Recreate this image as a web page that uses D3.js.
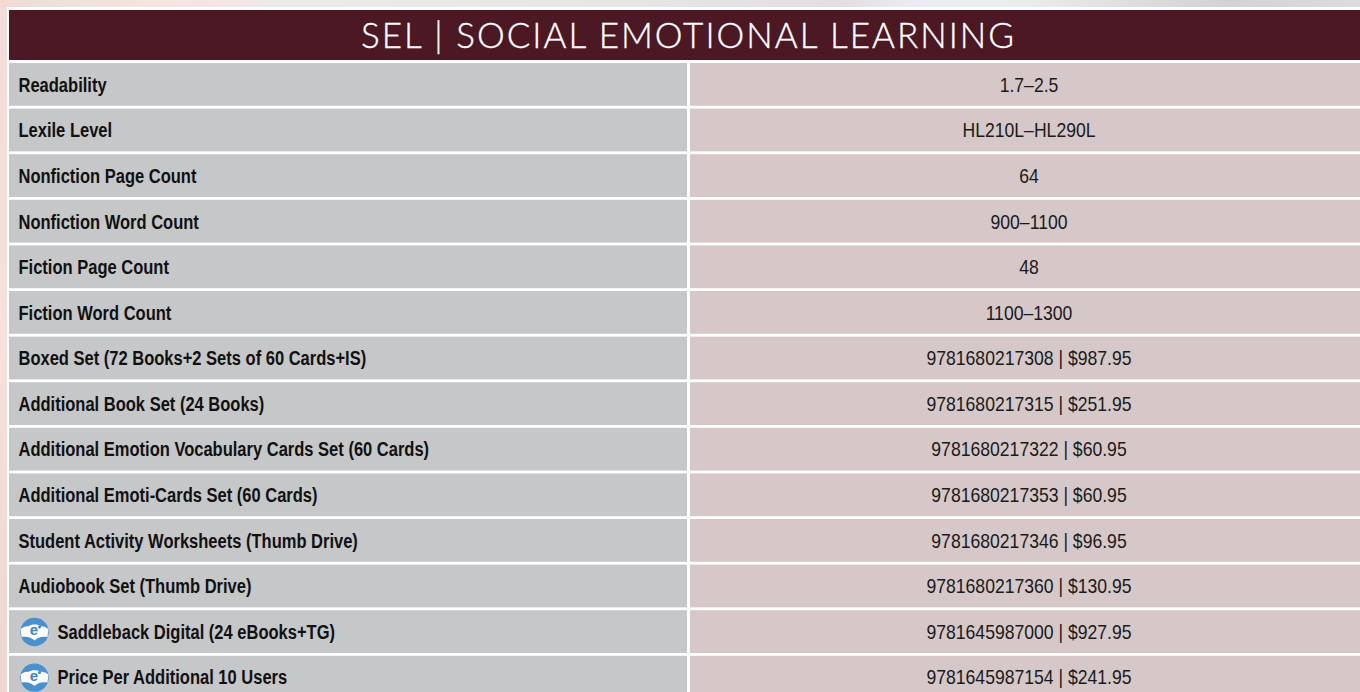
<!DOCTYPE html>
<html>
<head>
<meta charset="utf-8">
<script src="https://cdn.jsdelivr.net/npm/d3@7"></script>
<style>
html,body{margin:0;padding:0;background:#fff;overflow:hidden}
svg{display:block}
</style>
</head>
<body>
<svg id="chart" width="1360" height="692"></svg>
<script>
const titleText = "SEL | SOCIAL EMOTIONAL LEARNING";
const rowLabels = ["Readability","Lexile Level","Nonfiction Page Count","Nonfiction Word Count","Fiction Page Count","Fiction Word Count","Boxed Set (72 Books+2 Sets of 60 Cards+IS)","Additional Book Set (24 Books)","Additional Emotion Vocabulary Cards Set (60 Cards)","Additional Emoti-Cards Set (60 Cards)","Student Activity Worksheets (Thumb Drive)","Audiobook Set (Thumb Drive)","Saddleback Digital (24 eBooks+TG)","Price Per Additional 10 Users"];
const rowValues = ["1.7–2.5","HL210L–HL290L","64","900–1100","48","1100–1300","9781680217308 | $987.95","9781680217315 | $251.95","9781680217322 | $60.95","9781680217353 | $60.95","9781680217346 | $96.95","9781680217360 | $130.95","9781645987000 | $927.95","9781645987154 | $241.95"];
const digitalRows = ["Saddleback Digital (24 eBooks+TG)","Price Per Additional 10 Users"];

const svg = d3.select("#chart");
const defs = svg.append("defs");
const bg = defs.append("linearGradient").attr("id","bgTop");
[[0,"#f6d8d2"],[0.03,"#ece0da"],[0.12,"#f6e4e0"],[0.18,"#f4e6e4"],[0.2,"#ebebe6"],[0.45,"#e6e6e4"],[0.62,"#e2dfe4"],[0.68,"#eaeef4"],[0.75,"#e8eeec"],[0.82,"#e0e0e0"],[0.9,"#d2d2d6"],[1,"#dcdce0"]].forEach(d=>bg.append("stop").attr("offset",d[0]).attr("stop-color",d[1]));
const bgL = defs.append("linearGradient").attr("id","bgLeft").attr("x1",0).attr("x2",0).attr("y1",0).attr("y2",1);
[[0,"#f4dcd8"],[0.5,"#f4e0dc"],[1,"#eed6d2"]].forEach(d=>bgL.append("stop").attr("offset",d[0]).attr("stop-color",d[1]));

svg.append("rect").attr("width",1360).attr("height",7).attr("fill","url(#bgTop)");
svg.append("rect").attr("y",7).attr("width",7).attr("height",685).attr("fill","url(#bgLeft)");

const y = d3.scaleBand().domain(rowLabels).range([63,698.6]).paddingInner(0.0614).paddingOuter(0);
const colL = 9, colM = 687, colR = 690, W = 1360;

svg.append("rect").attr("x",colL).attr("y",10).attr("width",W-colL).attr("height",50).attr("fill","#4b1824");
svg.append("text").attr("x",688.5).attr("y",48).attr("text-anchor","middle")
  .attr("font-family","Lato").attr("font-weight",300).attr("font-size",35).attr("letter-spacing",2.03)
  .attr("fill","#fff").attr("stroke","#fff").attr("stroke-width",0.35).text(titleText);

const rows = svg.selectAll("g.row").data(rowLabels.map((l,i)=>({label:l,value:rowValues[i]}))).join("g").attr("class","row");
rows.append("rect").attr("x",colL).attr("y",d=>y(d.label)).attr("width",colM-colL).attr("height",y.bandwidth()).attr("fill","#c6c7c9");
rows.append("rect").attr("x",colR).attr("y",d=>y(d.label)).attr("width",W-colR).attr("height",y.bandwidth()).attr("fill","#d6c8c9");
const font = "'Liberation Sans',sans-serif";
rows.append("text")
  .attr("transform",d=>`translate(${digitalRows.includes(d.label)?57.5:18.5},${y(d.label)+y.bandwidth()/2+7.3}) scale(0.826,1)`)
  .attr("font-family",font).attr("font-weight",700).attr("font-size",20).attr("fill","#111").text(d=>d.label);
rows.append("text")
  .attr("transform",d=>`translate(1029,${y(d.label)+y.bandwidth()/2+7.3}) scale(0.88,1)`).attr("text-anchor","middle")
  .attr("font-family",font).attr("font-size",20).attr("fill","#1a1a1a").text(d=>d.value);

const icons = rows.filter(d=>digitalRows.includes(d.label)).append("g")
  .attr("transform",d=>`translate(34.5,${y(d.label)+y.bandwidth()/2+0.4})`);
icons.append("circle").attr("r",14.2).attr("fill","#4a8fd0");
icons.append("path").attr("d","M-13.8,-3 C-10,-6 -7,-6 -6,-5.5 C-4,-8 4,-8 6,-5.5 C7,-6 10,-6 13.8,-3 L13,5 C8,4 3,5 0,8.5 C-3,5 -8,4 -13,5 Z").attr("fill","#fff");
icons.append("text").attr("x",-0.5).attr("y",3.5).attr("text-anchor","middle").attr("font-family","'Liberation Sans'").attr("font-weight",700).attr("font-size",15).attr("fill","#3f84c6").text("e");
icons.append("circle").attr("cx",5).attr("cy",-5).attr("r",1.5).attr("fill","#3f84c6");
</script>
</body>
</html>
